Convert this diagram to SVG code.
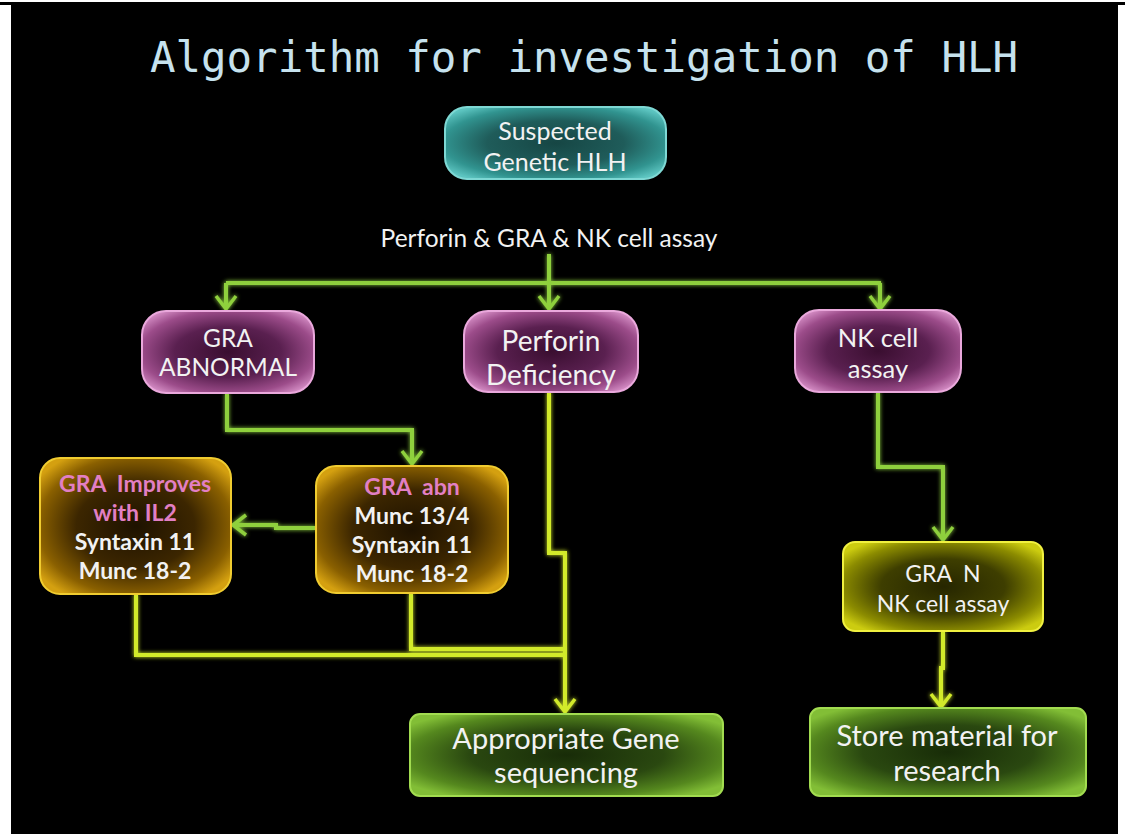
<svg xmlns="http://www.w3.org/2000/svg" width="1125" height="834" viewBox="0 0 1125 834">
<style>
.t{font-family:Lato,"Open Sans","Liberation Sans",sans-serif;fill:#f2f2f2;text-anchor:middle;white-space:pre}
.b{font-weight:bold}
.pk{fill:#e27fc4}
.title{font-family:"DejaVu Sans Mono","Liberation Mono",monospace;fill:#c6e2ee;font-size:43px;text-anchor:middle}
.lg{fill:none;stroke:#8fd03c;stroke-width:4;stroke-linejoin:miter}
.ly{fill:none;stroke:#d2ea2c;stroke-width:4;stroke-linejoin:miter}
</style>
<defs>
<filter id="glow" filterUnits="userSpaceOnUse" x="0" y="0" width="1125" height="834">
<feGaussianBlur in="SourceGraphic" stdDeviation="2.2" result="b"/>
<feMerge><feMergeNode in="b"/><feMergeNode in="SourceGraphic"/></feMerge>
</filter>
<marker id="ag" markerUnits="userSpaceOnUse" viewBox="-16 -13 18 26" refX="0" refY="0" markerWidth="18" markerHeight="26" orient="auto">
<path d="M-13,-10 L0,0 L-13,10" fill="none" stroke="#8fd03c" stroke-width="3.5"/>
</marker>
<marker id="ay" markerUnits="userSpaceOnUse" viewBox="-16 -13 18 26" refX="0" refY="0" markerWidth="18" markerHeight="26" orient="auto">
<path d="M-13,-10 L0,0 L-13,10" fill="none" stroke="#d2ea2c" stroke-width="3.5"/>
</marker>
<radialGradient id="gTeal" cx="50%" cy="50%" r="62%">
<stop offset="0" stop-color="#164644"/><stop offset="0.5" stop-color="#1f5c5a"/><stop offset="0.82" stop-color="#319490"/><stop offset="1" stop-color="#5cc4c0"/>
</radialGradient>
<radialGradient id="gPink" cx="50%" cy="50%" r="62%">
<stop offset="0" stop-color="#3a0e30"/><stop offset="0.5" stop-color="#5a2050"/><stop offset="0.82" stop-color="#9c4c8a"/><stop offset="1" stop-color="#d28ac2"/>
</radialGradient>
<radialGradient id="gGold" cx="50%" cy="50%" r="62%">
<stop offset="0" stop-color="#1e1200"/><stop offset="0.5" stop-color="#3c2600"/><stop offset="0.82" stop-color="#8a6000"/><stop offset="1" stop-color="#d4a010"/>
</radialGradient>
<radialGradient id="gYel" cx="50%" cy="50%" r="62%">
<stop offset="0" stop-color="#262600"/><stop offset="0.5" stop-color="#3e3e00"/><stop offset="0.82" stop-color="#8c8c00"/><stop offset="1" stop-color="#cccc10"/>
</radialGradient>
<radialGradient id="gGreen" cx="50%" cy="50%" r="62%">
<stop offset="0" stop-color="#182c08"/><stop offset="0.5" stop-color="#2a4810"/><stop offset="0.82" stop-color="#55881e"/><stop offset="1" stop-color="#82be36"/>
</radialGradient>
</defs>

<rect x="0" y="0" width="1125" height="834" fill="#ffffff"/>
<rect x="0" y="2" width="1125" height="3" fill="#000"/>
<rect x="11" y="5" width="1107" height="829" fill="#000"/>

<text class="title" x="584" y="72" textLength="868" lengthAdjust="spacingAndGlyphs">Algorithm for investigation of HLH</text>

<text class="t" x="549" y="247" font-size="24.5">Perforin &amp; GRA &amp; NK cell assay</text>

<g id="connectors" filter="url(#glow)">
<path class="lg" d="M549,254 V283"/>
<path class="lg" d="M226,283 H881"/>
<path class="lg" d="M226,283 V309" marker-end="url(#ag)"/>
<path class="lg" d="M549,283 V309" marker-end="url(#ag)"/>
<path class="lg" d="M880,283 V309" marker-end="url(#ag)"/>
<path class="lg" d="M227,393 V430 H412 V464" marker-end="url(#ag)"/>
<path class="lg" d="M316,528 H276 V525 H233" marker-end="url(#ag)"/>
<path class="lg" d="M878,392 V467 H943 V540" marker-end="url(#ag)"/>
<path class="ly" d="M549,392 V553 H565 V712" marker-end="url(#ay)"/>
<path class="ly" d="M136,594 V655 H565"/>
<path class="ly" d="M411,593 V649 H565"/>
<path class="ly" d="M943,631 V668 H941 V707" marker-end="url(#ay)"/>
</g>

<g id="n-suspected">
<rect x="445" y="107" width="221" height="72" rx="22" fill="url(#gTeal)" stroke="#7ed8d4" stroke-width="2"/>
<text class="t" x="555" y="140" font-size="25">Suspected</text>
<text class="t" x="555" y="171" font-size="25">Genetic HLH</text>
</g>

<g id="n-gra-abnormal">
<rect x="142" y="311" width="172" height="82" rx="24" fill="url(#gPink)" stroke="#eaa8dc" stroke-width="2"/>
<text class="t" x="228" y="347" font-size="24.5">GRA</text>
<text class="t" x="228" y="376" font-size="24.5">ABNORMAL</text>
</g>

<g id="n-perforin">
<rect x="464" y="311" width="174" height="81" rx="24" fill="url(#gPink)" stroke="#eaa8dc" stroke-width="2"/>
<text class="t" x="551" y="351" font-size="28">Perforin</text>
<text class="t" x="551" y="385" font-size="28">Deficiency</text>
</g>

<g id="n-nkcell">
<rect x="795" y="310" width="166" height="82" rx="24" fill="url(#gPink)" stroke="#eaa8dc" stroke-width="2"/>
<text class="t" x="878" y="347" font-size="25.5">NK cell</text>
<text class="t" x="878" y="378" font-size="25.5">assay</text>
</g>

<g id="n-gra-improves">
<rect x="40" y="458" width="191" height="136" rx="20" fill="url(#gGold)" stroke="#f0cc30" stroke-width="2"/>
<text class="t b pk" x="135" y="492" font-size="23">GRA  Improves</text>
<text class="t b pk" x="135" y="521" font-size="23">with IL2</text>
<text class="t b" x="135" y="550" font-size="23">Syntaxin 11</text>
<text class="t b" x="135" y="579" font-size="23">Munc 18-2</text>
</g>

<g id="n-gra-abn">
<rect x="316" y="466" width="192" height="127" rx="20" fill="url(#gGold)" stroke="#f0cc30" stroke-width="2"/>
<text class="t b pk" x="412" y="495" font-size="23">GRA  abn</text>
<text class="t b" x="412" y="524" font-size="23">Munc 13/4</text>
<text class="t b" x="412" y="553" font-size="23">Syntaxin 11</text>
<text class="t b" x="412" y="582" font-size="23">Munc 18-2</text>
</g>

<g id="n-gra-n">
<rect x="843" y="542" width="200" height="89" rx="12" fill="url(#gYel)" stroke="#f0f040" stroke-width="2"/>
<text class="t" x="943" y="582" font-size="23">GRA  N</text>
<text class="t" x="943" y="612" font-size="23">NK cell assay</text>
</g>

<g id="n-gene">
<rect x="410" y="714" width="313" height="82" rx="10" fill="url(#gGreen)" stroke="#a2dc50" stroke-width="2"/>
<text class="t" x="566" y="749" font-size="29">Appropriate Gene</text>
<text class="t" x="566" y="783" font-size="29">sequencing</text>
</g>

<g id="n-store">
<rect x="810" y="708" width="276" height="88" rx="10" fill="url(#gGreen)" stroke="#a2dc50" stroke-width="2"/>
<text class="t" x="947" y="746" font-size="29">Store material for</text>
<text class="t" x="947" y="781" font-size="29">research</text>
</g>
</svg>
